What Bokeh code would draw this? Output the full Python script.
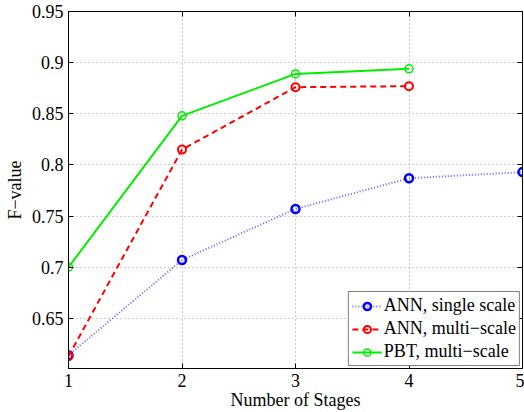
from bokeh.plotting import figure
from bokeh.models import Range1d, LinearAxis, FixedTicker, Legend, LegendItem
from bokeh.embed import file_html
from bokeh.resources import INLINE

stages = [1, 2, 3, 4, 5]
ann_single = [0.614, 0.707, 0.757, 0.787, 0.793]
stages_ms = [1, 2, 3, 4]
ann_multi = [0.613, 0.815, 0.876, 0.877]
pbt_multi = [0.700, 0.848, 0.889, 0.894]
x_ticks = [1, 2, 3, 4, 5]
y_ticks = [0.65, 0.7, 0.75, 0.8, 0.85, 0.9, 0.95]

FONT = "Liberation Serif"

p = figure(width=524, height=412, output_backend="svg", toolbar_location=None,
           x_range=Range1d(1, 5), y_range=Range1d(0.601, 0.95),
           min_border_left=68, min_border_right=2, min_border_top=11, min_border_bottom=44)
p.outline_line_color = "black"
p.outline_line_width = 1
p.background_fill_color = "white"
p.border_fill_color = "white"

for ax in [p.xaxis[0], p.yaxis[0]]:
    ax.major_tick_in = 5
    ax.major_tick_out = 0
    ax.minor_tick_line_color = None
    ax.axis_line_color = "black"
    ax.major_label_text_font = FONT
    ax.major_label_text_font_size = "18px"
    ax.major_label_text_color = "black"
    ax.axis_label_text_font = FONT
    ax.axis_label_text_font_size = "18px"
    ax.axis_label_text_font_style = "normal"
    ax.axis_label_text_color = "black"

p.xaxis[0].ticker = FixedTicker(ticks=x_ticks)
p.yaxis[0].ticker = FixedTicker(ticks=y_ticks)
p.yaxis[0].major_label_overrides = {v: ("%g" % v) for v in y_ticks}
p.xaxis[0].axis_label = "Number of Stages"
p.yaxis[0].axis_label = "F\u2212value"
p.xaxis[0].axis_label_standoff = 0
p.yaxis[0].axis_label_standoff = 4
p.xaxis[0].major_label_standoff = 5
p.yaxis[0].major_label_standoff = 5

ra = LinearAxis(ticker=FixedTicker(ticks=y_ticks), major_label_text_color=None,
                major_label_overrides={v: "" for v in y_ticks},
                major_tick_in=5, major_tick_out=0, minor_tick_line_color=None)
ta = LinearAxis(ticker=FixedTicker(ticks=x_ticks), major_label_text_color=None,
                major_label_overrides={v: "" for v in x_ticks},
                major_tick_in=5, major_tick_out=0, minor_tick_line_color=None)
p.add_layout(ra, "right")
p.add_layout(ta, "above")
p.min_border_right = 2
p.min_border_top = 11

p.xgrid.ticker = FixedTicker(ticks=x_ticks)
p.ygrid.ticker = FixedTicker(ticks=y_ticks)
for g in [p.xgrid[0], p.ygrid[0]]:
    g.grid_line_color = "#a0a0a0"
    g.grid_line_dash = "1 3"
    g.grid_line_width = 1

l1 = p.line(stages, ann_single, line_color="#0000ff", line_dash="1 2", line_width=2, line_alpha=0.6)
s1 = p.scatter(stages, ann_single, marker="circle", size=8, fill_color=None,
               line_color="#0000ff", line_width=2.5)
l2 = p.line(stages_ms, ann_multi, line_color="#ff0000", line_dash="6 4", line_width=2)
s2 = p.scatter(stages_ms, ann_multi, marker="circle", size=8, fill_color=None,
               line_color="#ff0000", line_width=2)
l3 = p.line(stages_ms, pbt_multi, line_color="#00ee00", line_width=2)
s3 = p.scatter(stages_ms, pbt_multi, marker="circle", size=8, fill_color=None,
               line_color="#00ee00", line_width=1.5)

legend = Legend(items=[
    LegendItem(label="ANN, single scale", renderers=[l1, s1]),
    LegendItem(label="ANN, multi\u2212scale", renderers=[l2, s2]),
    LegendItem(label="PBT, multi\u2212scale", renderers=[l3, s3]),
], location="bottom_right")
legend.label_text_font = FONT
legend.label_text_font_size = "18px"
legend.label_text_color = "black"
legend.border_line_color = "black"
legend.border_line_width = 1
legend.glyph_width = 30
legend.glyph_height = 18
legend.label_height = 18
legend.label_standoff = 2
legend.spacing = 2
legend.padding = 3
legend.margin = 2
legend.background_fill_alpha = 1
p.add_layout(legend)

open("out.html", "w").write(file_html(p, INLINE))
